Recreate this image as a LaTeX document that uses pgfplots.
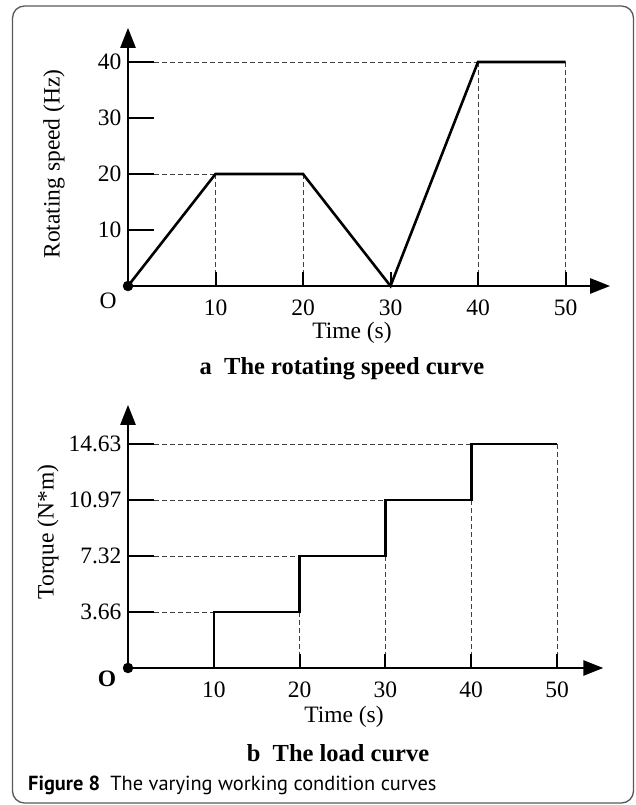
\documentclass[border=0pt]{standalone}
\usepackage{fontspec}
\setmainfont{Liberation Serif}
\newfontfamily\capfont{PT Sans}
\usepackage{pgfplots}
\pgfplotsset{compat=1.18}
\usetikzlibrary{arrows.meta}
\pgfplotsset{
  cond/.style={
    axis lines=left,
    axis line style={line width=2.6pt, -{Triangle[length=20pt,width=15pt]}},
    tick align=inside,
    major tick length=26pt,
    xtick style={/pgfplots/major tick length=14pt},
    tick style={line width=2pt, black},
    clip=false,
    ticklabel style={font=\fontsize{23.5}{26}\selectfont},
    /pgf/number format/assume math mode=true,
    xticklabel style={yshift=-10pt},
    yticklabel style={xshift=-3pt},
  },
  guide/.style={line width=0.8pt, black!75, dash pattern=on 5pt off 3pt},
  curve/.style={line width=2.6pt, black},
}
\begin{document}
\begin{tikzpicture}[x=1pt,y=1pt]
\useasboundingbox (0,0) rectangle (635,805);
\draw[black!65, line width=1.3pt, rounded corners=12pt] (12.5,2) rectangle (633.5,799);

% ---------- (a) rotating speed ----------
\begin{axis}[cond, at={(128pt,519pt)}, anchor=origin,
  x=8.75pt, y=5.6pt, xmin=0, xmax=55.1, ymin=0, ymax=46.1,
  xtick={10,20,30,40,50}, ytick={10,20,30,40}]
\addplot[guide] coordinates {(2.97,40) (40,40)};
\addplot[guide] coordinates {(2.97,20) (10,20)};
\addplot[guide] coordinates {(10,20) (10,2.5)};
\addplot[guide] coordinates {(20,20) (20,2.5)};
\addplot[guide] coordinates {(40,40) (40,2.5)};
\addplot[guide] coordinates {(50,40) (50,2.5)};
\addplot[curve] coordinates {(0,0) (10,20) (20,20) (30,0) (40,40) (50,40)};
\addplot[only marks, mark=*, mark size=5pt, black] coordinates {(0,0)};
\end{axis}
\node[font=\fontsize{23.5}{26}\selectfont] at (108,504) {O};
\node[font=\fontsize{23.5}{26}\selectfont] at (352,472) {Time (s)};
\node[font=\fontsize{23.5}{26}\selectfont, rotate=90] at (54,641) {Rotating speed (Hz)};
\node[font=\fontsize{24.5}{28}\selectfont\bfseries] at (342,436) {a\enspace The rotating speed curve};

% ---------- (b) load ----------
\begin{axis}[cond, at={(128pt,137pt)}, anchor=origin,
  x=8.58pt, y=15.3pt, xmin=0, xmax=55.4, ymin=0, ymax=17.2,
  xtick={10,20,30,40,50}, ytick={3.66,7.32,10.97,14.63},
  yticklabels={3.66,7.32,10.97,14.63}]
\addplot[guide] coordinates {(3.03,3.66) (10,3.66)};
\addplot[guide] coordinates {(3.03,7.32) (20,7.32)};
\addplot[guide] coordinates {(3.03,10.97) (30,10.97)};
\addplot[guide] coordinates {(3.03,14.63) (40,14.63)};
\addplot[guide] coordinates {(20,3.66) (20,0.92)};
\addplot[guide] coordinates {(30,7.32) (30,0.92)};
\addplot[guide] coordinates {(40,10.97) (40,0.92)};
\addplot[guide] coordinates {(50,14.63) (50,0.92)};
\addplot[curve] coordinates {(10,0) (10,3.66) (20,3.66) (20,7.32) (30,7.32) (30,10.97) (40,10.97) (40,14.63) (50,14.63)};
\addplot[only marks, mark=*, mark size=5pt, black] coordinates {(0,0)};
\end{axis}
\node[font=\fontsize{23.5}{26}\selectfont\bfseries] at (107,126) {O};
\node[font=\fontsize{23.5}{26}\selectfont] at (344,88) {Time (s)};
\node[font=\fontsize{23.5}{26}\selectfont, rotate=90] at (48,273) {Torque (N*m)};
\node[font=\fontsize{24.5}{28}\selectfont\bfseries] at (338,52) {b\enspace The load curve};

\node[anchor=west, inner sep=0pt, font=\capfont\fontsize{20.4}{24}\selectfont] at (28,20) {\textbf{Figure 8}\enspace The varying working condition curves};
\end{tikzpicture}
\end{document}
